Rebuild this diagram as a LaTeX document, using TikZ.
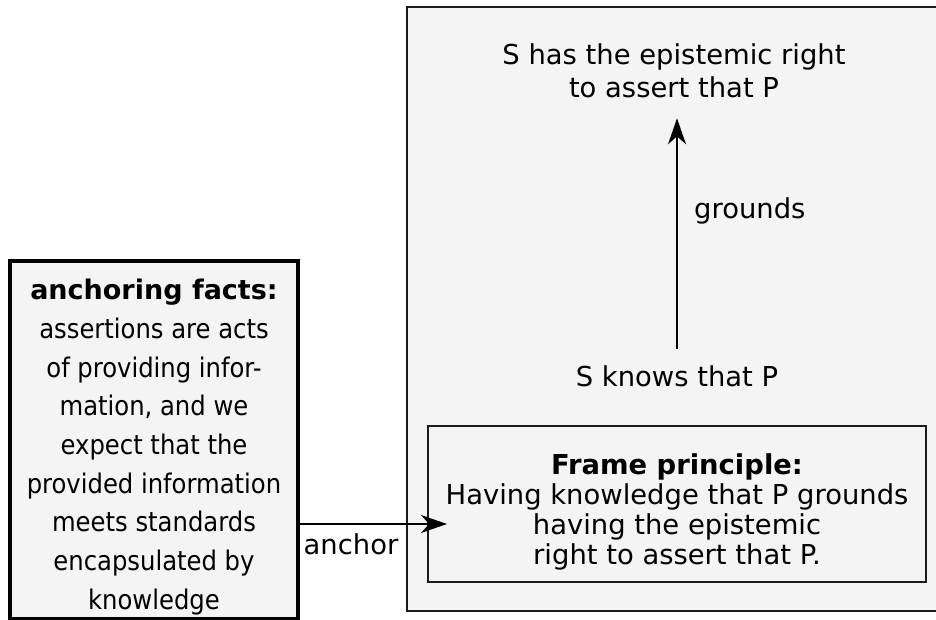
\documentclass[tikz,border=0pt]{standalone}
\usepackage{fontspec}
\setmainfont{DejaVu Sans}
\newfontfamily\condfont{DejaVu Sans Condensed}
\usetikzlibrary{arrows.meta}
\definecolor{boxfill}{HTML}{F4F4F4}
\definecolor{edge}{HTML}{1A1A1A}
\tikzset{
  rtext/.style={font=\fontsize{27.4}{33}\selectfont, align=center, inner sep=0pt},
  ctext/.style={font=\condfont\fontsize{27}{38.7}\selectfont, align=center, inner sep=0pt},
  ftext/.style={font=\fontsize{27.4}{30}\selectfont, align=center, inner sep=0pt},
  conn/.style={line width=1.6pt, -{Stealth[length=26pt,width=18pt,inset=8pt]}},
}
\begin{document}
\begin{tikzpicture}[x=1pt,y=-1pt]
\useasboundingbox (0,0) rectangle (936,620);
\fill[white] (0,0) rectangle (936,620);
% big frame
\node[draw=edge, line width=2pt, fill=boxfill, minimum width=580pt, minimum height=604pt, inner sep=0pt] (frame) at (697,309) {};
% left box
\node[draw=black, line width=3.2pt, fill=boxfill, minimum width=288pt, minimum height=358pt, inner sep=0pt] (lbox) at (154,440) {};
\node[ctext] (ltext) at (154,447) {{\rmfamily\bfseries anchoring facts:}\\assertions are acts\\of providing infor-\\mation, and we\\expect that the\\provided information\\meets standards\\encapsulated by\\knowledge};
% frame principle box
\node[draw=edge, line width=1.6pt, fill=boxfill, minimum width=498pt, minimum height=156pt, inner sep=0pt] (fp) at (677,504) {};
\node[ftext] (fptext) at (677,512) {\textbf{Frame principle:}\\Having knowledge that P grounds\\having the epistemic\\ right to assert that P.};
% texts
\node[rtext] (top) at (674,71) {S has the epistemic right\\to assert that P};
\node[rtext] (knows) at (677,376) {S knows that P};
\node[rtext, anchor=west] (glabel) at (694,211) {grounds};
\draw[conn, shorten <=16pt, shorten >=20pt] (knows.north -| glabel.west) ++(-17,0) coordinate (gS) -- (gS |- top.south);
% anchor
\coordinate (ancE) at (447,524);
\draw[conn] (lbox.east |- ancE) -- (ancE);
\node[font=\fontsize{27.4}{30}\selectfont, inner sep=0pt] (alabel) at (351,544) {anchor};
\end{tikzpicture}
\end{document}
